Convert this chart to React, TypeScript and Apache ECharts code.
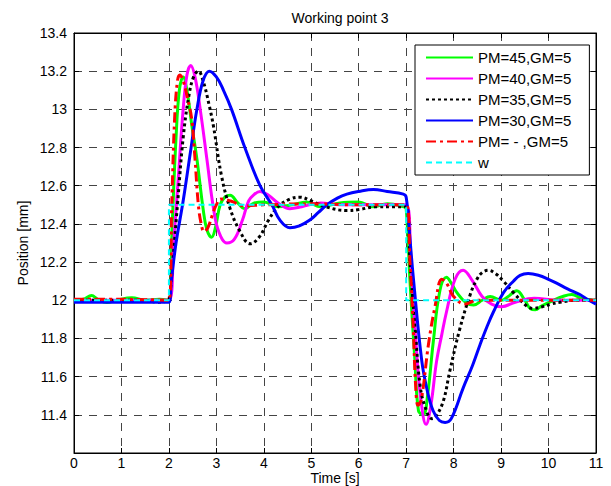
import React, { useEffect, useRef } from "react";
import * as echarts from "echarts";

const titleText = "Working point 3";
const xName = "Time [s]";
const yName = "Position [mm]";
const legendNames = ["PM=45,GM=5", "PM=40,GM=5", "PM=35,GM=5", "PM=30,GM=5", "PM= - ,GM=5", "w"];

const pm45: number[][] = [
  [0, 12.0], [0.2, 12.005], [0.37, 12.025], [0.5, 12.005], [0.69, 11.988], [0.9, 12.0], [1.22, 12.013], [1.5, 12.0], [1.8, 12.005], [2.0, 12.0],
  [2.07, 12.4], [2.15, 12.85], [2.22, 13.1], [2.3, 13.17], [2.38, 13.1], [2.48, 12.92], [2.59, 12.74], [2.72, 12.48], [2.8, 12.37], [2.9, 12.33],
  [2.98, 12.38], [3.08, 12.5], [3.18, 12.54], [3.29, 12.55], [3.45, 12.51], [3.6, 12.48], [3.8, 12.51], [4.0, 12.515], [4.3, 12.49], [4.6, 12.5],
  [4.9, 12.515], [5.2, 12.49], [5.6, 12.51], [6.0, 12.515], [6.3, 12.49], [6.6, 12.505], [6.95, 12.49], [7.0, 12.48], [7.08, 12.1], [7.18, 11.7],
  [7.26, 11.42], [7.36, 11.4], [7.45, 11.5], [7.57, 11.78], [7.71, 12.05], [7.85, 12.12], [7.95, 12.09], [8.07, 12.04], [8.25, 11.99], [8.42, 11.975],
  [8.6, 12.0], [8.77, 12.02], [9.0, 12.0], [9.15, 12.02], [9.33, 12.05], [9.5, 12.0], [9.62, 11.955], [9.72, 11.95], [9.85, 11.97], [10.1, 12.0],
  [10.3, 12.02], [10.49, 12.03], [10.7, 12.01], [11.0, 12.0],
];

const pm40: number[][] = [
  [0, 12.0], [1.0, 12.0], [2.0, 12.0], [2.1, 12.3], [2.2, 12.65], [2.3, 13.0], [2.38, 13.18], [2.46, 13.23], [2.55, 13.17], [2.66, 13.0],
  [2.8, 12.74], [2.94, 12.48], [3.05, 12.36], [3.22, 12.3], [3.38, 12.32], [3.55, 12.42], [3.68, 12.52], [3.8, 12.555], [3.92, 12.57], [4.1, 12.55],
  [4.3, 12.51], [4.55, 12.48], [4.8, 12.49], [5.2, 12.51], [5.6, 12.5], [6.5, 12.5], [7.0, 12.5], [7.1, 12.2], [7.2, 11.8], [7.3, 11.5],
  [7.42, 11.35], [7.52, 11.45], [7.64, 11.68], [7.75, 11.82], [7.85, 11.94], [8.03, 12.11], [8.2, 12.157], [8.4, 12.1], [8.6, 12.02], [8.8, 11.98],
  [9.01, 11.966], [9.3, 11.99], [9.7, 12.01], [10.2, 12.0], [11.0, 12.0],
];

const pm35: number[][] = [
  [0, 12.0], [1.0, 12.0], [1.5, 12.0], [1.75, 11.99], [1.95, 11.995], [2.0, 12.0], [2.08, 12.2], [2.18, 12.5], [2.3, 12.85], [2.42, 13.07],
  [2.52, 13.17], [2.62, 13.2], [2.72, 13.15], [2.85, 13.02], [2.94, 12.91], [3.11, 12.65], [3.29, 12.48], [3.5, 12.36], [3.71, 12.296], [3.9, 12.33],
  [4.1, 12.42], [4.3, 12.49], [4.55, 12.53], [4.76, 12.54], [5.0, 12.52], [5.3, 12.49], [5.75, 12.47], [6.0, 12.475], [6.38, 12.49], [6.7, 12.49],
  [7.0, 12.49], [7.08, 12.2], [7.19, 11.85], [7.29, 11.56], [7.4, 11.44], [7.54, 11.38], [7.62, 11.39], [7.78, 11.47], [7.92, 11.63], [8.13, 11.85],
  [8.35, 12.03], [8.49, 12.11], [8.6, 12.145], [8.73, 12.157], [8.88, 12.14], [9.05, 12.1], [9.26, 12.04], [9.54, 11.97], [9.68, 11.957], [9.85, 11.965],
  [10.05, 11.98], [10.24, 11.99], [10.6, 12.0], [11.0, 12.0],
];

const pm30: number[][] = [
  [0, 11.99], [1.0, 11.99], [2.0, 11.99], [2.05, 12.1], [2.15, 12.3], [2.3, 12.52], [2.45, 12.77], [2.59, 13.0], [2.72, 13.15], [2.85, 13.2],
  [3.0, 13.17], [3.15, 13.1], [3.32, 13.0], [3.6, 12.8], [3.92, 12.6], [4.17, 12.5], [4.34, 12.42], [4.55, 12.38], [4.75, 12.39], [4.97, 12.42],
  [5.15, 12.46], [5.33, 12.5], [5.55, 12.535], [5.75, 12.556], [6.0, 12.57], [6.31, 12.58], [6.6, 12.57], [6.94, 12.556], [7.0, 12.54], [7.07, 12.35],
  [7.15, 12.12], [7.33, 11.68], [7.45, 11.52], [7.57, 11.42], [7.7, 11.37], [7.82, 11.36], [7.95, 11.38], [8.2, 11.54], [8.4, 11.66], [8.56, 11.77],
  [8.7, 11.86], [8.84, 11.94], [9.05, 12.04], [9.26, 12.1], [9.4, 12.13], [9.57, 12.14], [9.8, 12.13], [10.0, 12.11], [10.17, 12.09], [10.4, 12.06],
  [10.66, 12.03], [10.85, 12.0], [11.0, 11.98],
];

const pmNone: number[][] = [
  [0, 12.005], [1.0, 12.005], [2.0, 12.0], [2.06, 12.5], [2.12, 12.95], [2.18, 13.15], [2.23, 13.18], [2.3, 13.15], [2.4, 13.05], [2.48, 12.95],
  [2.55, 12.74], [2.62, 12.5], [2.68, 12.4], [2.74, 12.36], [2.82, 12.38], [2.92, 12.45], [3.0, 12.5], [3.1, 12.53], [3.3, 12.52], [3.6, 12.495],
  [4.0, 12.5], [5.0, 12.505], [6.0, 12.5], [7.0, 12.5], [7.08, 12.2], [7.15, 11.85], [7.2, 11.55], [7.25, 11.45], [7.32, 11.48], [7.47, 11.77],
  [7.61, 11.97], [7.75, 12.11], [7.85, 12.09], [8.0, 12.02], [8.24, 11.98], [8.5, 12.0], [11.0, 12.0],
];

const wRef: number[][] = [
  [0, 12.0], [2.0, 12.0], [2.0, 12.5], [7.0, 12.5], [7.0, 12.0], [11.0, 12.0],
];

const FONT = "Liberation Sans, Arial, Helvetica, sans-serif";

export default function App() {
  const ref = useRef<HTMLDivElement>(null);
  useEffect(() => {
    if (!ref.current) return;
    const chart = echarts.init(ref.current, undefined, { renderer: "svg" });
    const gridLine = { show: true, lineStyle: { color: "#444", width: 1, type: [8, 7] as any } };
    const mkLine = (name: string, data: number[][], color: string, type: any, width: number, smooth: number | boolean) => ({
      name,
      type: "line",
      data,
      symbol: "none",
      smooth,
      lineStyle: { color, width, type },
      itemStyle: { color },
    });
    chart.setOption({
      animation: false,
      backgroundColor: "#fff",
      textStyle: { fontFamily: FONT },
      title: {
        text: titleText,
        left: 335,
        textAlign: "center",
        top: 6,
        textStyle: { fontSize: 14, fontWeight: "normal", color: "#000", fontFamily: FONT },
      },
      grid: {
        left: 74, right: 15, top: 33, bottom: 33,
        outerBoundsMode: "none",
        containLabel: false,
        show: true, borderColor: "#000", borderWidth: 1, backgroundColor: "#fff",
      },
      legend: {
        orient: "vertical",
        left: 415,
        top: 45,
        data: legendNames,
        itemWidth: 47,
        itemHeight: 14,
        itemGap: 6,
        padding: [5, 18, 5, 10],
        backgroundColor: "#fff",
        borderColor: "#000",
        borderWidth: 1,
        itemStyle: { opacity: 0 },
        textStyle: { fontSize: 15, color: "#000", fontFamily: FONT },
      },
      xAxis: [
        {
          type: "value", min: 0, max: 11, interval: 1, position: "bottom",
          name: xName, nameLocation: "middle", nameGap: 18, nameMoveOverlap: false,
          nameTextStyle: { fontSize: 14, color: "#000", fontFamily: FONT, verticalAlign: "top" },
          axisLine: { show: true, onZero: false, lineStyle: { color: "#000", width: 1 } },
          axisTick: { show: true, inside: true, length: 5, lineStyle: { color: "#000" } },
          axisLabel: { color: "#000", fontSize: 14, margin: 3, fontFamily: FONT },
          splitLine: gridLine,
        },
        {
          type: "value", min: 0, max: 11, interval: 1, position: "top",
          axisLine: { show: true, onZero: false, lineStyle: { color: "#000", width: 1 } },
          axisTick: { show: true, inside: true, length: 5, lineStyle: { color: "#000" } },
          axisLabel: { show: false },
          splitLine: { show: false },
        },
      ],
      yAxis: [
        {
          type: "value", min: 11.2, max: 13.4, interval: 0.2, position: "left",
          name: yName, nameLocation: "middle", nameGap: 44, nameRotate: 90, nameMoveOverlap: false,
          nameTextStyle: { fontSize: 14, color: "#000", fontFamily: FONT },
          axisLine: { show: true, onZero: false, lineStyle: { color: "#000", width: 1 } },
          axisTick: { show: true, inside: true, length: 5, lineStyle: { color: "#000" } },
          axisLabel: {
            color: "#000", fontSize: 14, margin: 7, fontFamily: FONT,
            formatter: (v: number) => (Math.abs(v - 11.2) < 1e-6 ? "" : String(Number(v.toFixed(1)))),
          },
          splitLine: gridLine,
        },
        {
          type: "value", min: 11.2, max: 13.4, interval: 0.2, position: "right",
          axisLine: { show: true, onZero: false, lineStyle: { color: "#000", width: 1 } },
          axisTick: { show: true, inside: true, length: 5, lineStyle: { color: "#000" } },
          axisLabel: { show: false },
          splitLine: { show: false },
        },
      ],
      series: [
        mkLine(legendNames[0], pm45, "#00ff00", "solid", 3, 0.4),
        mkLine(legendNames[1], pm40, "#ff00ff", "solid", 3, 0.4),
        mkLine(legendNames[2], pm35, "#000000", [3, 3], 3, 0.4),
        mkLine(legendNames[3], pm30, "#0000ff", "solid", 3, 0.4),
        mkLine(legendNames[4], pmNone, "#ff0000", [10, 4, 3, 4], 3, 0.4),
        mkLine(legendNames[5], wRef, "#00ffff", [6, 4], 2, false),
      ],
    });
    return () => chart.dispose();
  }, []);
  return <div ref={ref} style={{ position: "fixed", left: 0, top: 0, width: 611, height: 486 }} />;
}
